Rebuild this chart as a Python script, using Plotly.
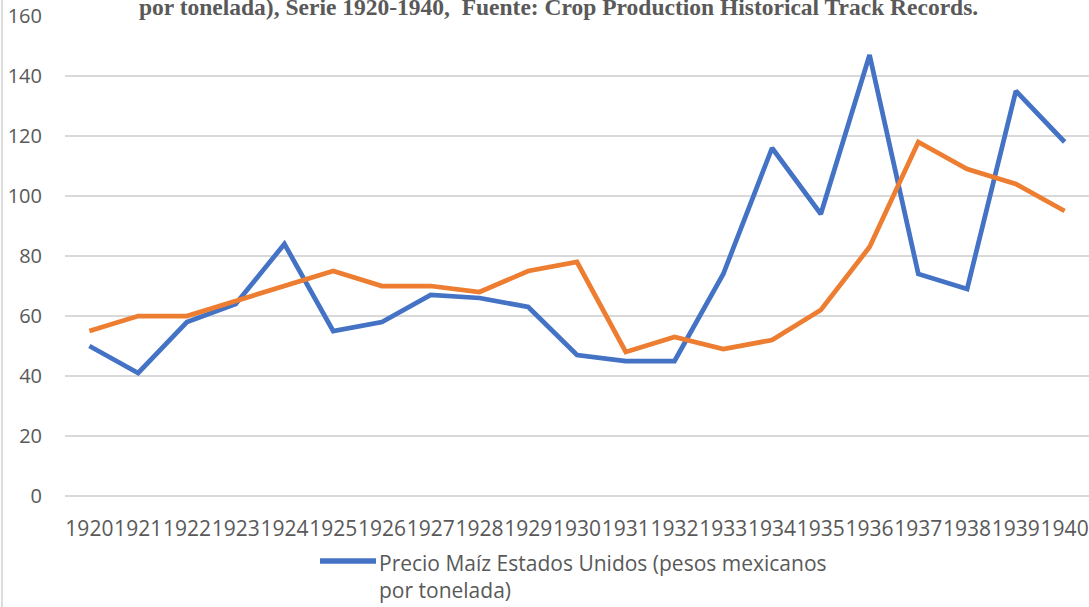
import plotly.graph_objects as go

# Precio del maíz, 1920-1940 (pesos mexicanos por tonelada)
years = [str(y) for y in range(1920, 1941)]
precio_eeuu = [50, 41, 58, 64, 84, 55, 58, 67, 66, 63, 47, 45, 45, 74, 116, 94, 147, 74, 69, 135, 118]
precio_mexico = [55, 60, 60, 65, 70, 75, 70, 70, 68, 75, 78, 48, 53, 49, 52, 62, 83, 118, 109, 104, 95]
y_ticks = [0, 20, 40, 60, 80, 100, 120, 140, 160]

legend_label = "Precio Maíz Estados Unidos (pesos mexicanos<br>por tonelada)"
title_text = "por tonelada), Serie 1920-1940,  Fuente: Crop Production Historical Track Records."

BLUE = "#4472C4"
ORANGE = "#ED7D31"
TEXT = "#595959"
GRID = "#D9D9D9"
FONT = "Open Sans"

W, H = 1089, 607
ML, MR, MT, MB = 65, 0, 16, 111
plot_w = W - ML - MR
plot_h = H - MT - MB

fig = go.Figure()
fig.add_trace(go.Scatter(
    x=years, y=precio_eeuu, mode="lines",
    line=dict(color=BLUE, width=4.75), showlegend=False,
    name="Precio Maíz Estados Unidos (pesos mexicanos por tonelada)",
))
fig.add_trace(go.Scatter(
    x=years, y=precio_mexico, mode="lines",
    line=dict(color=ORANGE, width=4.75), showlegend=False,
))

def px_x(px):
    return (px - ML) / plot_w

def px_y(py):
    return 1 - (py - MT) / plot_h

# legend entry for the blue series, drawn below the axis
fig.add_shape(type="line", xref="paper", yref="paper",
              x0=px_x(320), x1=px_x(376), y0=px_y(561), y1=px_y(561),
              line=dict(color=BLUE, width=5.5))
fig.add_annotation(xref="paper", yref="paper", x=px_x(377), y=px_y(547),
                   xanchor="left", yanchor="top", align="left", showarrow=False,
                   text=legend_label, font=dict(family=FONT, size=21, color=TEXT))

# chart title, partly above the visible area
fig.add_annotation(xref="paper", yref="paper", x=px_x(558), y=1, yshift=-6,
                   xanchor="center", yanchor="bottom", showarrow=False,
                   text="<b>" + title_text + "</b>",
                   font=dict(family="Liberation Serif", size=23.5, color=TEXT))

# left border of the chart area
fig.add_shape(type="line", xref="paper", yref="paper",
              x0=px_x(2), x1=px_x(2), y0=px_y(H + 5), y1=px_y(-5),
              line=dict(color="#D0D0D0", width=1.5))

fig.update_layout(
    width=W, height=H,
    margin=dict(l=ML, r=MR, t=MT, b=MB, autoexpand=False),
    paper_bgcolor="white", plot_bgcolor="white",
    font=dict(family=FONT, size=20, color=TEXT),
    showlegend=False,
)
fig.update_xaxes(
    type="category", range=[-0.5, 20.5], tickangle=0,
    showgrid=False, showline=False, zeroline=False, ticks="",
    ticklabelstandoff=18,
    tickfont=dict(family=FONT, size=21, color=TEXT),
)
fig.update_yaxes(
    range=[0, 160], tickvals=y_ticks, showgrid=True, gridcolor=GRID, gridwidth=1.5,
    zeroline=True, zerolinecolor=GRID, zerolinewidth=1.5, showline=False, ticks="",
    ticklabelstandoff=22,
    tickfont=dict(family=FONT, size=20, color=TEXT),
)

fig.write_html("out.html")
